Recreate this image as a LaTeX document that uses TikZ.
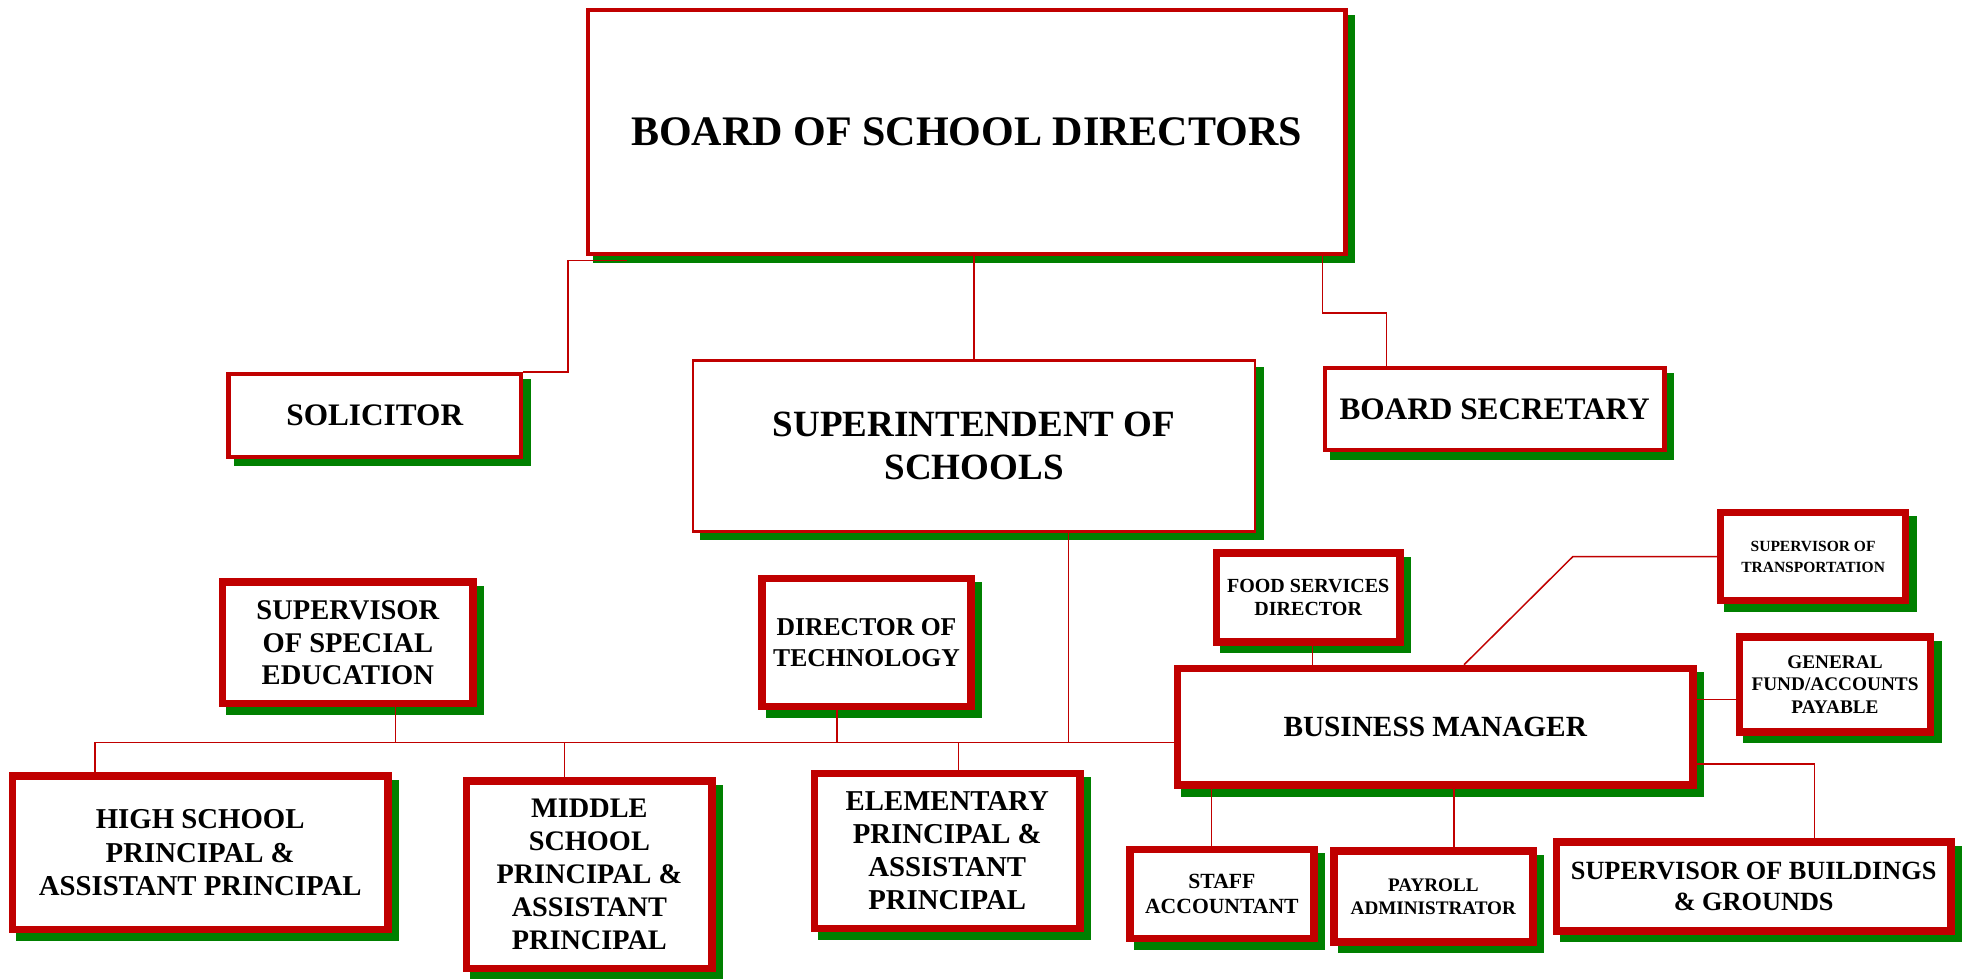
\documentclass[tikz,border=0pt]{standalone}
\usepackage{fontspec}
\setmainfont{Liberation Serif}
\usepackage{tikz}
\usetikzlibrary{shadows}

\definecolor{boxred}{RGB}{192,0,0}
\definecolor{shadegreen}{RGB}{0,128,0}

\begin{document}
\begin{tikzpicture}[x=1pt, y=-1pt,
    unit/.style={draw=boxred, fill=white, align=center, inner sep=0pt,
        drop shadow={shadow xshift=6pt, shadow yshift=-6pt, fill=shadegreen, draw=shadegreen, opacity=1}},
    light/.style={unit, line width=1.8pt},
    medium/.style={unit, line width=3.5pt},
    heavy/.style={unit, line width=6pt},
    sz/.style 2 args={font=\bfseries\fontsize{#1}{#2}\selectfont},
    conn/.style={draw=boxred, line width=1.2pt}]
    \useasboundingbox (0,0) rectangle (1568,782);

    % Board and the offices under it
    \node[medium, sz={33.6}{38}, minimum width=605.5, minimum height=195] (board) at (772.5,105.3) {BOARD OF SCHOOL DIRECTORS};
    \node[medium, sz={25}{28}, minimum width=233.5, minimum height=66] (solicitor) at (299.5,332) {SOLICITOR};
    \node[light, sz={29.6}{34}, minimum width=449, minimum height=136.7] (super) at (778.5,356.5) {SUPERINTENDENT OF\\SCHOOLS};
    \node[medium, sz={25}{28}, minimum width=271.5, minimum height=65.7] (secretary) at (1194.5,327) {BOARD SECRETARY};

    % Staff reporting to the superintendent
    \node[heavy, sz={22.8}{25.7}, minimum width=200, minimum height=97] (special) at (278,513.7) {SUPERVISOR\\OF SPECIAL\\EDUCATION};
    \node[heavy, sz={20.5}{25.3}, minimum width=167, minimum height=102] (tech) at (692.5,513.5) {DIRECTOR OF\\TECHNOLOGY};
    \node[heavy, sz={23}{26.6}, minimum width=300, minimum height=123] (high) at (160,681.5) {HIGH SCHOOL\\PRINCIPAL \&\\ASSISTANT PRINCIPAL};
    \node[heavy, sz={22.6}{26.4}, minimum width=196, minimum height=150] (middle) at (471,699) {MIDDLE\\SCHOOL\\PRINCIPAL \&\\ASSISTANT\\PRINCIPAL};
    \node[heavy, sz={23}{26.4}, minimum width=212, minimum height=124] (elem) at (757,680) {ELEMENTARY\\PRINCIPAL \&\\ASSISTANT\\PRINCIPAL};

    % Business office
    \node[heavy, sz={23.4}{26}, minimum width=412, minimum height=93.3] (bm) at (1147,580.9) {BUSINESS MANAGER};
    \node[heavy, sz={16}{18.1}, minimum width=147, minimum height=71] (food) at (1045.5,477.5) {FOOD SERVICES\\DIRECTOR};
    \node[heavy, sz={12.4}{17}, minimum width=148, minimum height=70.5] (transport) at (1449,444.8) {SUPERVISOR OF\\TRANSPORTATION};
    \node[heavy, sz={15.4}{18.2}, minimum width=153, minimum height=75.8] (general) at (1466.5,547) {GENERAL\\FUND/ACCOUNTS\\PAYABLE};
    \node[heavy, sz={17.3}{19.4}, minimum width=147, minimum height=71] (staff) at (976.5,714.5) {STAFF\\ACCOUNTANT};
    \node[heavy, sz={15.3}{18.6}, minimum width=159, minimum height=73] (payroll) at (1145.5,716.5) {PAYROLL\\ADMINISTRATOR};
    \node[heavy, sz={21}{25.3}, minimum width=315, minimum height=71] (buildings) at (1401.5,708.5) {SUPERVISOR OF BUILDINGS\\\& GROUNDS};

    % Lines from the board
    \draw[conn] ([xshift=33pt,yshift=-3.5pt]board.south west) -| ([xshift=36pt]solicitor.north east) -- (solicitor.north east);
    \draw[conn] (super.north |- board.south) -- (super.north);
    \draw[conn] ([xshift=-20pt]board.south east) -- ++(0,45.5) -| ([xshift=51pt]secretary.north west);

    % Common line of the schools
    \coordinate (bus) at ([yshift=-12.6pt]bm.west);
    \draw[conn] ([xshift=-84pt]high.north) |- (bus);
    \draw[conn] ([xshift=-20pt]middle.north) |- (bus);
    \draw[conn] ([xshift=9pt]elem.north) |- (bus);
    \draw[conn] ([xshift=38pt]special.south) |- (bus);
    \draw[conn] ([xshift=-23.5pt]tech.south) |- (bus);
    \draw[conn] ([xshift=75.5pt]super.south) |- (bus);

    % Lines round the business manager
    \draw[conn] ([xshift=3.5pt]food.south) -- ([xshift=-98pt]bm.north);
    \draw[conn] ([xshift=23pt]bm.north) -- ([xshift=-115pt]transport.west) -- (transport.west);
    \draw[conn] ([yshift=22pt]bm.east) -- ([yshift=22pt]bm.east -| general.west);
    \draw[conn] ([yshift=-29.6pt]bm.east) -| ([xshift=48.5pt]buildings.north);
    \draw[conn] ([xshift=-179pt]bm.south) -- ([xshift=-8.5pt]staff.north);
    \draw[conn] ([xshift=15pt]bm.south) -- ([xshift=16.5pt]payroll.north);
\end{tikzpicture}
\end{document}
